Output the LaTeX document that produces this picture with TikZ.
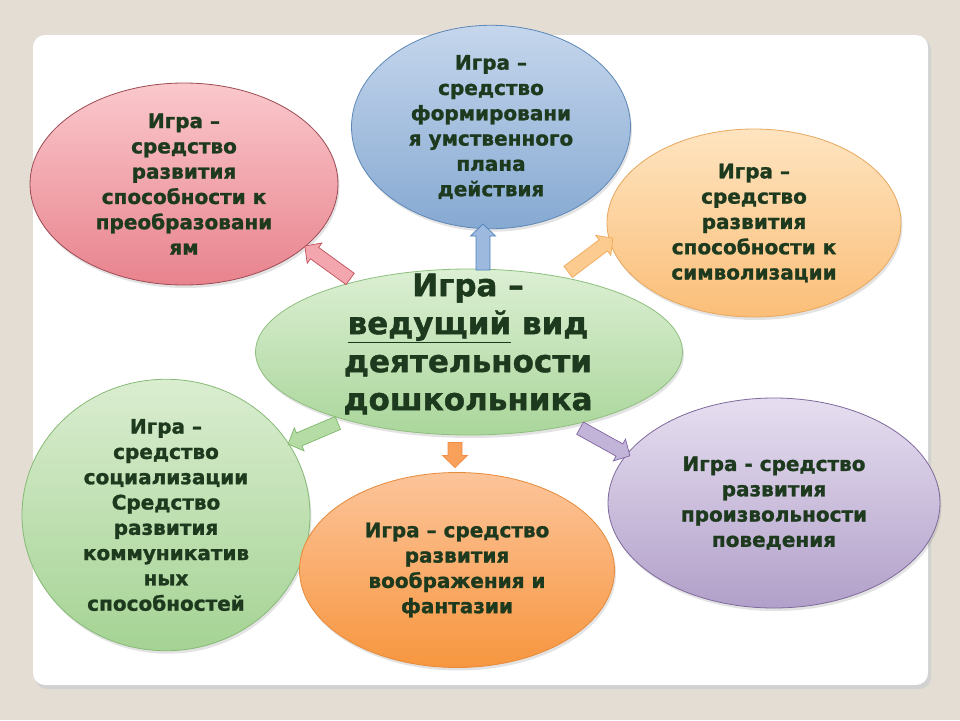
\documentclass[tikz,border=0pt]{standalone}
\usepackage{fontspec}
\setmainfont{DejaVu Sans}[BoldFeatures={FakeBold=1.3}]
\usetikzlibrary{shapes.geometric,shadows}
\definecolor{bg}{HTML}{E3DDD4}
\definecolor{txt}{HTML}{1E3A1E}
\newcommand{\barrow}[7]{%
  \begin{scope}[shift={(#1,#2)},rotate=#3]
    \filldraw[fill=#5,draw=#6,line width=0.7pt]
      ({-#4/2},-#7) -- ({#4/2-12},-#7) -- ({#4/2-12},-12.5) -- ({#4/2},0)
      -- ({#4/2-12},12.5) -- ({#4/2-12},#7) -- ({-#4/2},#7) -- cycle;
  \end{scope}}
\begin{document}
\begin{tikzpicture}[x=1pt,y=1pt,
  bubble/.style={ellipse, draw, line width=0.8pt, inner sep=0pt, align=center,
    text=txt, font=\bfseries\fontsize{20}{25.3}\selectfont,
    drop shadow={opacity=0.22, shadow xshift=1.5pt, shadow yshift=-3pt}},
  bigtext/.style={align=center, text=txt, font=\bfseries\fontsize{31}{38}\selectfont}
]
\useasboundingbox (0,0) rectangle (960,-720);
\fill[bg] (0,0) rectangle (960,-720);
\fill[black!18, rounded corners=12pt] (35,-38) rectangle (931,-689);
\fill[white, rounded corners=12pt] (33,-35) rectangle (928,-685);

\node[bubble, minimum width=308pt, minimum height=202pt,
  top color={rgb,255:red,250;green,200;blue,204}, bottom color={rgb,255:red,232;green,131;blue,141},
  draw={rgb,255:red,158;green,74;blue,85}] (red) at (184,-184)
  {Игра –\\средство\\развития\\способности к\\преобразовани\\ям};

\node[bubble, minimum width=279pt, minimum height=195pt,
  top color={rgb,255:red,197;green,214;blue,236}, bottom color={rgb,255:red,134;green,169;blue,210},
  draw={rgb,255:red,92;green,135;blue,184}] (blue) at (491,-127)
  {Игра –\\средство\\формировани\\я умственного\\плана\\действия};

\node[bubble, minimum width=294pt, minimum height=188pt,
  top color={rgb,255:red,254;green,228;blue,192}, bottom color={rgb,255:red,251;green,190;blue,120},
  draw={rgb,255:red,232;green,168;blue,96}] (lorange) at (754,-223)
  {Игра –\\средство\\развития\\способности к\\символизации};

\node[bubble, minimum width=288pt, minimum height=220pt,
  top color={rgb,255:red,218;green,237;blue,208}, bottom color={rgb,255:red,165;green,211;blue,148},
  draw={rgb,255:red,134;green,186;blue,117}] (lgreen) at (166,-515)
  {Игра –\\средство\\социализации\\Средство\\развития\\коммуникатив\\ных\\способностей};

\node[bubble, minimum width=315pt, minimum height=195pt,
  top color={rgb,255:red,252;green,196;blue,154}, bottom color={rgb,255:red,247;green,150;blue,63},
  draw={rgb,255:red,231;green,138;blue,58}] (dorange) at (457,-570)
  {Игра – средство\\развития\\воображения и\\фантазии};

\node[bubble, minimum width=332pt, minimum height=210pt,
  top color={rgb,255:red,230;green,222;blue,240}, bottom color={rgb,255:red,177;green,160;blue,201},
  draw={rgb,255:red,126;green,106;blue,156}] (purple) at (774,-503)
  {Игра - средство\\развития\\произвольности\\поведения};

\node[bubble, minimum width=427pt, minimum height=166pt,
  top color={rgb,255:red,220;green,239;blue,211}, bottom color={rgb,255:red,170;green,214;blue,155},
  draw={rgb,255:red,142;green,191;blue,126}] (center) at (469,-352) {};
\node[bigtext] (ctext) at (468,-344)
  {Игра –\\\underline{ведущий} вид\\деятельности\\дошкольника};

% block arrows
\barrow{327.5}{-262.5}{144}{56}{{rgb,255:red,244;green,166;blue,174}}{{rgb,255:red,192;green,80;blue,90}}{7}
\barrow{483}{-247}{90}{46}{{rgb,255:red,157;green,185;blue,221}}{{rgb,255:red,79;green,129;blue,189}}{7}
\barrow{590.5}{-255}{37}{56}{{rgb,255:red,251;green,203;blue,143}}{{rgb,255:red,240;green,170;blue,90}}{7}
\barrow{313}{-433.5}{203}{54}{{rgb,255:red,181;green,220;blue,165}}{{rgb,255:red,127;green,182;blue,106}}{7}
\barrow{455}{-455}{270}{25}{{rgb,255:red,249;green,160;blue,90}}{{rgb,255:red,240;green,140;blue,70}}{7}
\barrow{605}{-442}{-29}{57}{{rgb,255:red,194;green,179;blue,216}}{{rgb,255:red,128;green,100;blue,162}}{7}
\end{tikzpicture}
\end{document}
